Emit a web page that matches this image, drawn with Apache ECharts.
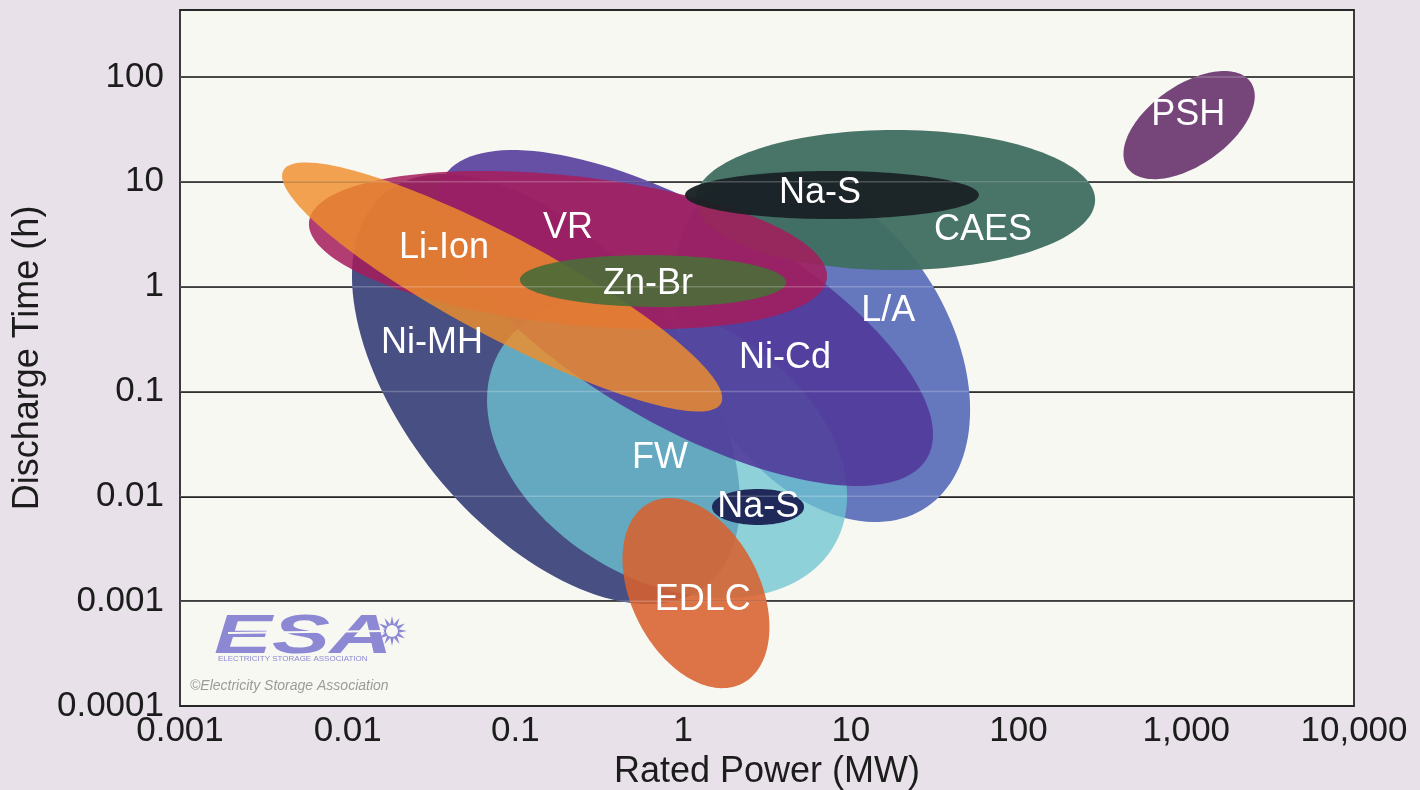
<!DOCTYPE html>
<html><head><meta charset="utf-8">
<script src="https://cdn.jsdelivr.net/npm/echarts@6/dist/echarts.min.js"></script>
<style>html,body{margin:0;padding:0;background:#e8e1ea;}#chart{width:1420px;height:790px;}</style>
</head><body><div id="chart"></div>
<script>
// ---- data ----
const technologies = ['L/A','Ni-MH','FW','Ni-Cd','CAES','VR','Li-Ion','Zn-Br','Na-S','Na-S','EDLC','PSH'];
const powerMinMW  = [0.883, 0.0106, 0.0677, 0.0341, 1.18, 0.00587, 0.00406, 0.1064, 1.026, 1.486, 0.435, 422];
const powerMaxMW  = [51.4, 2.18, 9.49, 30.9, 286, 7.21, 1.71, 4.11, 58, 5.26, 3.27, 2560];
const timeMinH    = [0.00569, 0.00094, 0.00107, 0.01256, 1.44, 0.394, 0.0644, 0.64, 4.42, 0.00533, 0.000148, 10.6];
const timeMaxH    = [12.4, 11.9, 0.78, 20.1, 31.3, 12.7, 15.3, 2.0, 12.7, 0.01175, 0.00964, 114];
const tilt        = [-0.36, -0.526, -0.32, -0.694, 0, -0.33, -0.892, -0.05, 0, 0, -0.358, 0.534];
const labelPowerMW = [16.7, 0.0318, 0.728, 4.05, 61.4, 0.206, 0.0375, 0.618, 6.55, 2.80, 1.31, 1026];
const labelTimeH   = [0.586, 0.290, 0.0232, 0.209, 3.47, 3.63, 2.34, 1.06, 7.83, 0.0079, 0.001026, 43.5];
const powerTicks = ['0.001','0.01','0.1','1','10','100','1,000','10,000'];
const timeTicks  = ['0.0001','0.001','0.01','0.1','1','10','100'];

// ---- styles ----
const fills  = ['#6577bd','#474f83','#6dc5d1','#51389a','#3f6e60','#a61c5c','#ef8e2b','#4c6b38','#1a2125','#1f2a5a','#d8612f','#76467b'];
const alphas = [1, 1, 0.77, 0.88, 0.95, 0.85, 0.82, 0.92, 0.96, 1, 0.88, 1];
const FONT = '"Liberation Sans", Arial, Helvetica, sans-serif';

const tickVal = s => parseFloat(s.replace(/,/g, ''));
const xMinExp = Math.round(Math.log10(tickVal(powerTicks[0])));
const yMinExp = Math.round(Math.log10(tickVal(timeTicks[0])));
function logFormatter(labels, minExp) {
  return function (v) {
    const l = Math.log10(v), k = Math.round(l);
    if (Math.abs(l - k) > 1e-6) return '';
    return labels[k - minExp] || '';
  };
}

function renderEllipse(params, api) {
  const i = params.dataIndex;
  const u0 = Math.log10(powerMinMW[i]), u1 = Math.log10(powerMaxMW[i]);
  const v0 = Math.log10(timeMinH[i]), v1 = Math.log10(timeMaxH[i]);
  const cu = (u0 + u1) / 2, cv = (v0 + v1) / 2, w = (u1 - u0) / 2, h = (v1 - v0) / 2;
  const r = tilt[i], s = Math.sqrt(1 - r * r);
  const pts = [];
  const N = 144;
  for (let k = 0; k < N; k++) {
    const t = 2 * Math.PI * k / N;
    const u = cu + w * Math.cos(t);
    const v = cv + h * (r * Math.cos(t) + s * Math.sin(t));
    pts.push(api.coord([Math.pow(10, u), Math.pow(10, v)]));
  }
  return { type: 'polygon', shape: { points: pts }, style: { fill: fills[i], opacity: alphas[i] } };
}

function renderOverlayLine(params, api) {
  const cs = params.coordSys;
  const p = api.coord([api.value(0), api.value(1)]);
  return { type: 'line', shape: { x1: cs.x, y1: p[1], x2: cs.x + cs.width, y2: p[1] },
           style: { stroke: 'rgba(255,255,255,0.22)', lineWidth: 1.5 } };
}

function renderLabel(params, api) {
  const i = params.dataIndex;
  const p = api.coord([labelPowerMW[i], labelTimeH[i]]);
  return { type: 'text', x: p[0], y: p[1],
           style: { text: technologies[i], fill: '#ffffff', font: '36px ' + FONT, align: 'center', verticalAlign: 'middle' } };
}

const ellipseData = technologies.map((n, i) => [Math.sqrt(powerMinMW[i] * powerMaxMW[i]), Math.sqrt(timeMinH[i] * timeMaxH[i])]);
const labelData = technologies.map((n, i) => [labelPowerMW[i], labelTimeH[i]]);
const overlayData = timeTicks.slice(1).map(t => [tickVal(powerTicks[3]), tickVal(t)]);

// star for the logo
const star = [];
for (let k = 0; k < 24; k++) {
  const a = Math.PI * 2 * k / 24, rr = k % 2 ? 7 : 15;
  star.push([392 + rr * Math.cos(a), 631 + rr * Math.sin(a)]);
}

const chart = echarts.init(document.getElementById('chart'), null, { renderer: 'canvas' });
chart.setOption({
  backgroundColor: '#e8e1ea',
  animation: false,
  grid: { left: 180, right: 66, top: 10, bottom: 84, show: true, backgroundColor: '#f8f8f3',
          borderColor: '#3a3a3a', borderWidth: 2, containLabel: false, outerBoundsMode: 'none' },
  xAxis: {
    type: 'log', logBase: 10, min: tickVal(powerTicks[0]), max: tickVal(powerTicks[powerTicks.length - 1]),
    axisLine: { show: false }, axisTick: { show: false }, splitLine: { show: false },
    axisLabel: { formatter: logFormatter(powerTicks, xMinExp), fontSize: 35, color: '#1c1c1c', margin: 8, fontFamily: FONT },
    name: 'Rated Power (MW)', nameLocation: 'middle', nameGap: 46,
    nameTextStyle: { fontSize: 36, color: '#1c1c1c', fontFamily: FONT }
  },
  yAxis: {
    type: 'log', logBase: 10, min: tickVal(timeTicks[0]), max: 435.6,
    axisLine: { show: false }, axisTick: { show: false },
    splitLine: { show: true, lineStyle: { color: '#262626', width: 2 } },
    axisLabel: { formatter: logFormatter(timeTicks, yMinExp), fontSize: 35, color: '#1c1c1c', margin: 16, fontFamily: FONT },
    name: 'Discharge Time (h)', nameLocation: 'middle', nameGap: 130,
    nameTextStyle: { fontSize: 36, color: '#1c1c1c', fontFamily: FONT }
  },
  series: [
    { type: 'custom', name: 'ranges', renderItem: renderEllipse, data: ellipseData, silent: true, z: 2, clip: true },
    { type: 'custom', name: 'overlay', renderItem: renderOverlayLine, data: overlayData, silent: true, z: 3 },
    { type: 'custom', name: 'labels', renderItem: renderLabel, data: labelData, silent: true, z: 4 }
  ],
  graphic: [
    { type: 'text', x: 214, y: 610, scaleX: 1.55, style: { text: 'ESA', font: 'italic 900 56px ' + FONT, fill: '#8c88d4' }, z: 10 },
    { type: 'line', shape: { x1: 228, y1: 633, x2: 384, y2: 631 }, style: { stroke: '#f8f8f3', lineWidth: 2 }, z: 11 },
    { type: 'polygon', shape: { points: star }, style: { fill: '#8c88d4' }, z: 10 },
    { type: 'circle', shape: { cx: 392, cy: 631, r: 6 }, style: { fill: '#f8f8f3' }, z: 11 },
    { type: 'text', x: 218, y: 655, style: { text: 'ELECTRICITY STORAGE ASSOCIATION', font: '8px ' + FONT, fill: '#8c88d4' }, z: 10 },
    { type: 'text', x: 190, y: 679, style: { text: '\u00a9Electricity Storage Association', font: 'italic 14px ' + FONT, fill: '#9a9a9a' }, z: 10 }
  ]
});
</script></body></html>
